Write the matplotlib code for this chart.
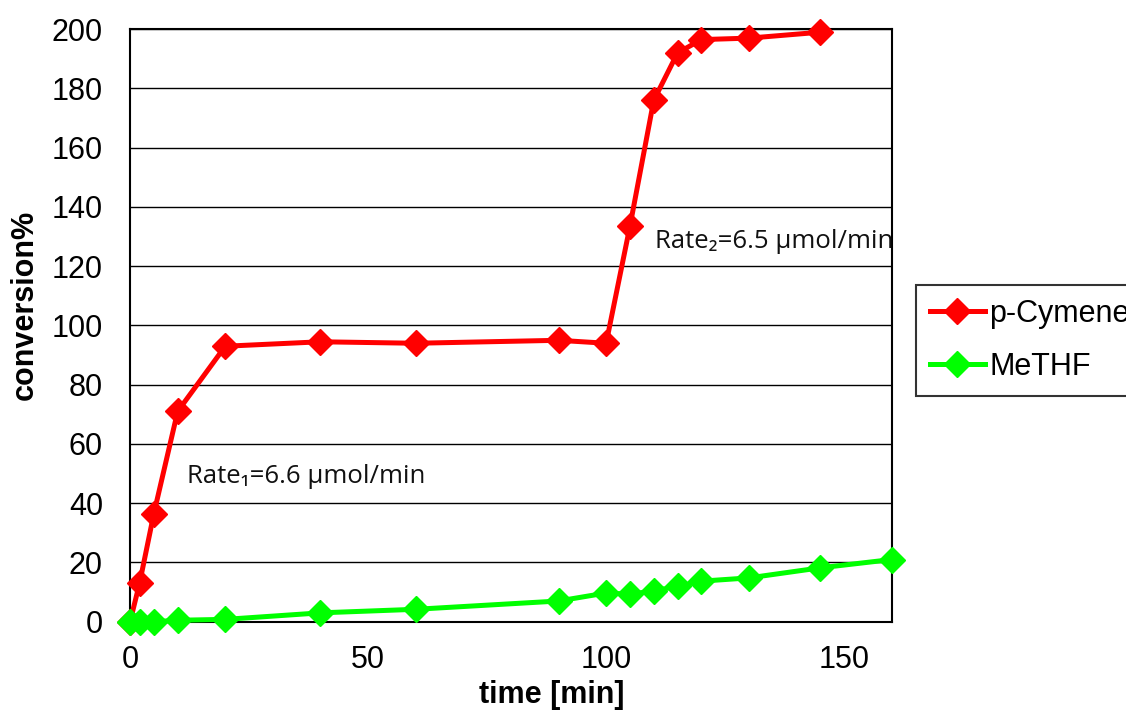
import matplotlib
matplotlib.use("Agg")
import matplotlib.pyplot as plt

time_cym = [0, 2, 5, 10, 20, 40, 60, 90, 100, 105, 110, 115, 120, 130, 145]
conv_cym = [0, 13, 36.5, 71, 93, 94.5, 94, 95, 94, 133.5, 176, 192, 196.5, 197, 199]
time_me = [0, 2, 5, 10, 20, 40, 60, 90, 100, 105, 110, 115, 120, 130, 145, 160]
conv_me = [0, 0, 0, 0.5, 0.8, 3, 4.2, 7, 9.7, 9.3, 10.4, 12, 13.7, 14.8, 18.2, 21]
labels = ["p-Cymene", "MeTHF"]
notes = ["Rate\u2081=6.6 \u00b5mol/min", "Rate\u2082=6.5 \u00b5mol/min"]

plt.rcParams['font.family'] = ['Liberation Sans', 'DejaVu Sans']

fig = plt.figure(figsize=(11.26, 7.13), dpi=100)
ax = fig.add_axes([0.1155, 0.128, 0.6765, 0.831])

ax.plot(time_cym, conv_cym, color='#ff0000', lw=3.6, marker='D', ms=13.5,
        label=labels[0], zorder=3, clip_on=False)
ax.plot(time_me, conv_me, color='#00ff00', lw=3.6, marker='D', ms=13.5,
        label=labels[1], zorder=3, clip_on=False)

ax.set_xlim(0, 160)
ax.set_ylim(0, 200)
ax.set_xticks([0, 50, 100, 150])
ax.set_yticks(range(0, 201, 20))
ax.yaxis.grid(True, color='black', lw=1.0)
ax.set_axisbelow(True)
ax.tick_params(axis='both', labelsize=22, length=0)
ax.tick_params(axis='x', pad=17)
ax.tick_params(axis='y', pad=19.5)
for s in ax.spines.values():
    s.set_color('black')
    s.set_linewidth(1.5)

ax.set_xlabel('time [min]', fontsize=22, fontweight='bold', va='center')
ax.set_ylabel('conversion%', fontsize=22, fontweight='bold', va='center')
ax.xaxis.set_label_coords(0.553, -0.123)
ax.yaxis.set_label_coords(-0.138, 0.535)

tfam = ['Open Sans', 'Noto Sans', 'DejaVu Sans']
ax.text(12, 49, notes[0], fontsize=18.5, family=tfam, color='#111111', va='center')
ax.text(110.2, 128.5, notes[1], fontsize=18.5, family=tfam, color='#111111',
        va='center', clip_on=True)

leg = fig.legend(loc='upper left', bbox_to_anchor=(0.8135, 0.6), fontsize=22,
                 frameon=True, fancybox=False, shadow=False, handlelength=1.8,
                 handletextpad=0.15, borderpad=0.45, labelspacing=0.75, borderaxespad=0)
leg.get_frame().set_edgecolor('black')
leg.get_frame().set_linewidth(1.5)

fig.savefig('out.png', dpi=100)
